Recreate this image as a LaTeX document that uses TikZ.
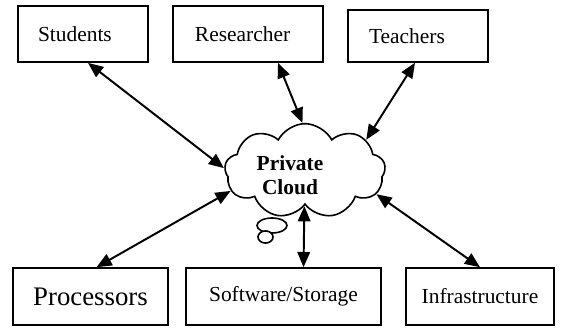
\documentclass[tikz,border=0pt]{standalone}
\usepackage{fontspec}
\setmainfont{Liberation Serif}
\usetikzlibrary{positioning, calc, shapes.symbols, arrows.meta}

\tikzset{
  box/.style={draw, line width=0.9pt, minimum height=31.4pt, inner ysep=0pt},
  leftbox/.style={box, align=left},
  biarrow/.style={{Triangle[length=8.5pt,width=7pt]}-{Triangle[length=8.5pt,width=7pt]}, line width=1.1pt},
}

\begin{document}
\begin{tikzpicture}[x=0.56pt, y=-0.56pt, font=\fontsize{12}{14}\selectfont]
	\useasboundingbox (0,0) rectangle (569,329);
	% top row
	\node (students) [leftbox, minimum width=72.8pt, inner xsep=11.2pt, text width=50.4pt] at (83,34) {Students};
	\node (researcher) [leftbox, minimum width=84pt, inner xsep=12.3pt, text width=59.4pt] at (248,34) {Researcher};
	\node (teachers) [leftbox, minimum width=78.4pt, minimum height=29.1pt, inner xsep=11.8pt, text width=54.8pt] at (418,36) {Teachers};
	% bottom row
	\node (processors) [box, minimum width=86.8pt, minimum height=31.9pt, font=\fontsize{15}{17}\selectfont] at (90.5,296.5) {Processors};
	\node (software) [box, minimum width=109.2pt, minimum height=31.9pt] at (283.5,296.5) {Software/Storage};
	\node (infra) [box, minimum width=82.9pt, minimum height=31.9pt] at (480,296.5) {Infrastructure};
	% cloud
	\node (cloud) [draw, cloud, cloud puffs=9, cloud puff arc=125, aspect=1.7, minimum width=90pt, minimum height=53pt, line width=0.9pt,
		label={[font=\fontsize{12}{13.4}\selectfont\bfseries, align=center, xshift=-8.4pt, yshift=-2.2pt]center:Private\\Cloud}] at (305,171) {};
	\draw [fill=white, line width=0.9pt] (272,225.5) ellipse [x radius=8.4pt, y radius=4.2pt];
	\draw [fill=white, line width=0.9pt] (265.5,237) ellipse [x radius=4.2pt, y radius=3.4pt];
	% links
	\draw [biarrow] ($(students.south)+(5,0)$) -- (cloud.178);
	\draw [biarrow] ($(researcher.south)+(30,0)$) -- (cloud.93);
	\draw [biarrow] ($(teachers.south)+(-3,0)$) -- (cloud.27);
	\draw [biarrow] ($(processors.north)+(6,0)$) -- (cloud.195);
	\draw [biarrow] ($(software.north)+(20,0)$) -- (cloud.269);
	\draw [biarrow] (infra.north) -- (cloud.342);
\end{tikzpicture}
\end{document}
